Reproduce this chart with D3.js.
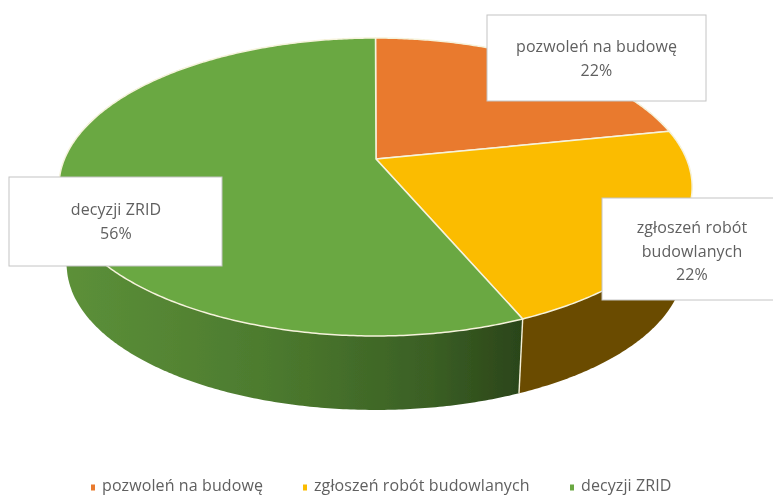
<!DOCTYPE html>
<html><head><meta charset="utf-8">
<script src="https://cdn.jsdelivr.net/npm/d3@7"></script>
<style>html,body{margin:0;padding:0;background:#fff}svg{display:block}text{font-family:"Open Sans",Lato,sans-serif;fill:#606060}</style>
</head><body><svg id="c" width="773" height="495"></svg>
<script>
const categories = ["pozwoleń na budowę", "zgłoszeń robót budowlanych", "decyzji ZRID"];
const values = [21.8, 21.8, 56.4];
const colors = ["#e97a2f", "#fbbc05", "#6aa843"];
const sideColors = ["#8a4a1c", "#6b4c00", "#4d7a30"];
const labelLines = [["pozwoleń na budowę"], ["zgłoszeń robót", "budowlanych"], ["decyzji ZRID"]];

const svg = d3.select("#c");
const total = d3.sum(values);
const pct = d3.format(".0%");

// Perspective disc: vertex (376,159); front radius 177, back radius 121
const cx = 375.5, cy = 159, p = 0.188, a = 143.7, b = 311;
function topPt(t) {
  const u = Math.sin(t), v = -Math.cos(t), d = 1 - p * v;
  return [cx + b * u / d, cy + a * v / d];
}
const s = 0.975, ecy = 187, bcy = 264.7;
function botPt(t) {
  const q = topPt(t);
  return [cx + s * (q[0] - cx), bcy + s * (q[1] - ecy)];
}
const arcs = d3.pie().sort(null).value(d => d)(values);
const line = d3.line();
function sample(a0, a1) {
  const n = Math.ceil((a1 - a0) / 0.01);
  return d3.range(n + 1).map(i => a0 + (a1 - a0) * i / n);
}

const defs = svg.append("defs");
const g = defs.append("linearGradient").attr("id", "sideG")
  .attr("gradientUnits", "userSpaceOnUse").attr("x1", 67).attr("x2", 522).attr("y1", 0).attr("y2", 0);
g.append("stop").attr("offset", 0).attr("stop-color", "#5c9039");
g.append("stop").attr("offset", 0.45).attr("stop-color", "#4c7a2e");
g.append("stop").attr("offset", 0.8).attr("stop-color", "#3a5f24");
g.append("stop").attr("offset", 1).attr("stop-color", "#2b4519");
defs.append("filter").attr("id", "soft").append("feGaussianBlur").attr("stdDeviation", 0.45);

const root = svg.append("g").attr("filter", "url(#soft)");

arcs.forEach((d, i) => {
  const ts = sample(d.startAngle, d.endAngle);
  const hull = d3.polygonHull(ts.map(topPt).concat(ts.map(botPt)));
  root.append("path").attr("d", line(hull) + "Z")
    .attr("fill", i === 2 ? "url(#sideG)" : sideColors[i]);
});
const seam = arcs[1].endAngle;
root.append("line").attr("x1", topPt(seam)[0]).attr("y1", topPt(seam)[1])
  .attr("x2", botPt(seam)[0]).attr("y2", botPt(seam)[1])
  .attr("stroke", "#f4f0d8").attr("stroke-width", 1.4);

arcs.forEach((d, i) => {
  const pts = sample(d.startAngle, d.endAngle).map(topPt);
  root.append("path").attr("d", line([[376, cy]].concat(pts)) + "Z")
    .attr("fill", colors[i]).attr("stroke", "#f6f3dc").attr("stroke-width", 1.5)
    .attr("stroke-linejoin", "round");
});

const boxes = [
  {x: 487, y: 15, w: 219, h: 86, tx: 596.5, base: 52},
  {x: 602, y: 198, w: 180, h: 102, tx: 692, base: 233},
  {x: 9, y: 177, w: 213, h: 89, tx: 116, base: 215}
];
const labelSize = 16, lh = 23.5, ls = "0.1px";
arcs.forEach((d, i) => {
  const bx = boxes[i];
  root.append("rect").attr("x", bx.x).attr("y", bx.y).attr("width", bx.w).attr("height", bx.h)
    .attr("fill", "#fff").attr("stroke", "#c4c4c4").attr("stroke-width", 1);
  labelLines[i].concat(pct(values[i] / total)).forEach((t, j) => {
    root.append("text").attr("x", bx.tx).attr("y", bx.base + j * lh)
      .attr("text-anchor", "middle").attr("font-size", labelSize)
      .style("letter-spacing", ls).text(t);
  });
});

const legendX = [91, 303, 570];
categories.forEach((c, i) => {
  root.append("rect").attr("x", legendX[i]).attr("y", 484.5).attr("width", 4).attr("height", 6).attr("fill", colors[i]);
  root.append("text").attr("x", legendX[i] + 11).attr("y", 491).attr("font-size", labelSize)
    .style("letter-spacing", ls).text(c);
});
</script></body></html>
